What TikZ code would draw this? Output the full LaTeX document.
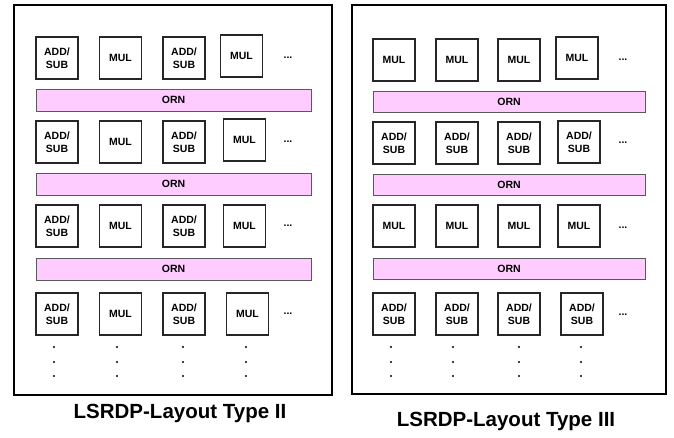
\documentclass[tikz,border=0pt]{standalone}
\usepackage{fontspec}
\setmainfont{Liberation Sans}
\definecolor{ornpink}{RGB}{255,204,255}
\tikzset{
  unit/.style={draw=black!85, line width=1.1pt, minimum width=42pt, minimum height=42pt,
    inner sep=0pt, align=center, font=\fontsize{10.5}{13.5}\selectfont\bfseries},
  ornbar/.style={draw=black!65, fill=ornpink, line width=0.9pt, inner sep=0pt,
    font=\fontsize{10.5}{13}\selectfont\bfseries},
  hdots/.style={inner sep=0pt, font=\fontsize{10.5}{13}\selectfont\bfseries},
  vdot/.style={circle, fill=black, inner sep=0pt, minimum size=2.2pt},
  frame/.style={draw=black, line width=2.2pt},
  ttl/.style={inner sep=0pt, font=\fontsize{20.5}{24}\selectfont\bfseries}
}
\begin{document}
\begin{tikzpicture}[x=1pt,y=-1pt]
\useasboundingbox (0,0) rectangle (674,437);
% frames
\draw[frame] (14,5) rectangle (332,395);
\draw[frame] (352,5) rectangle (666,394);
% left panel: Type II
\foreach \r/\y/\xd/\yd in {1/37/220/35, 2/121/223/119, 3/205/223/205, 4/293/226/293} {
  \node[unit] (L\r-1) at (57,{\y+21}) {ADD/\\SUB};
  \node[unit] (L\r-2) at (120.5,{\y+21}) {MUL};
  \node[unit] (L\r-3) at (184,{\y+21}) {ADD/\\SUB};
  \node[unit] (L\r-4) at ({\xd+21.5},{\yd+21}) {MUL};
}
\foreach \r/\y in {1/58, 2/142, 3/226, 4/314}
  \node[hdots] (Lh\r) at (288,\y) {...};
\foreach \k/\y in {1/89, 2/173, 3/258}
  \node[ornbar, minimum width=275pt, minimum height=22pt] (LO\k) at (173.5,{\y+11}) {ORN};
\foreach \c/\x in {1/54, 2/117, 3/183, 4/246}
  \foreach \j/\y in {1/347, 2/362, 3/376}
    \node[vdot] (Lv\c-\j) at (\x,\y) {};
% right panel: Type III
\foreach \r/\y/\xd/\yd/\lab in {1/39/556/37/{MUL}, 2/122/558/121/{ADD/\\SUB}, 3/205/558/205/{MUL}, 4/293/561/293/{ADD/\\SUB}} {
  \node[unit] (R\r-1) at (394,{\y+21}) {\lab};
  \node[unit] (R\r-2) at (457,{\y+21}) {\lab};
  \node[unit] (R\r-3) at (519,{\y+21}) {\lab};
  \node[unit] (R\r-4) at ({\xd+21},{\yd+21}) {\lab};
}
\foreach \r/\y in {1/60, 2/143, 3/228, 4/315}
  \node[hdots] (Rh\r) at (623,\y) {...};
\foreach \k/\y in {1/91, 2/174, 3/258}
  \node[ornbar, minimum width=272pt, minimum height=21.5pt] (RO\k) at (509,{\y+10.75}) {ORN};
\foreach \c/\x in {1/391, 2/453, 3/519, 4/581}
  \foreach \j/\y in {1/347, 2/362, 3/376}
    \node[vdot] (Rv\c-\j) at (\x,\y) {};
% titles
\node[ttl] (T2) at (180,413) {LSRDP-Layout Type II};
\node[ttl] (T3) at (506,421) {LSRDP-Layout Type III};
\end{tikzpicture}
\end{document}
